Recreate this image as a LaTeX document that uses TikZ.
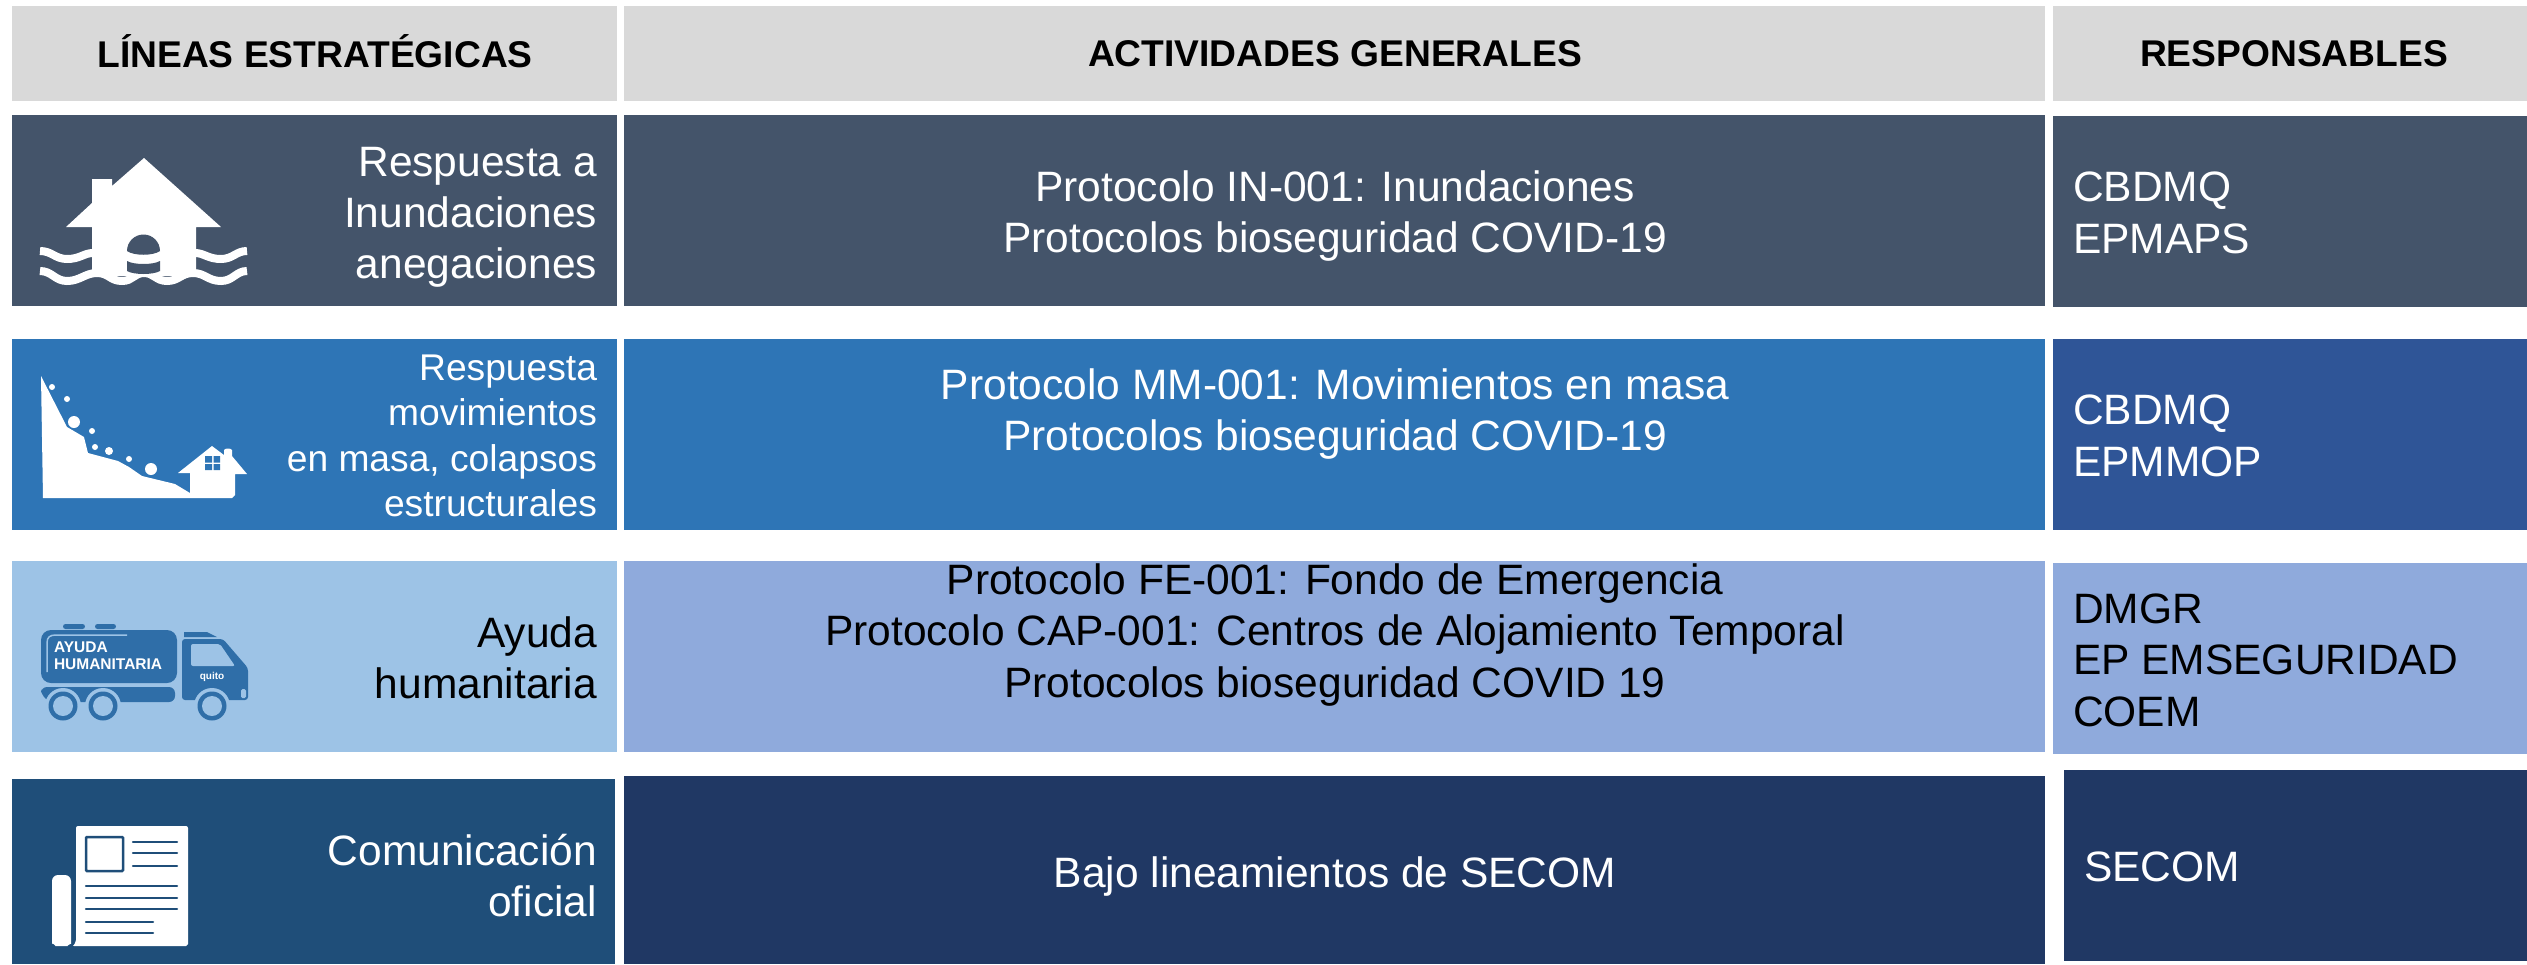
\documentclass[tikz,border=0pt]{standalone}
\usepackage{fontspec}
\setmainfont{Liberation Sans}
\definecolor{hdr}{HTML}{D9D9D9}
\definecolor{slate}{HTML}{44546A}
\definecolor{blueA}{HTML}{2E75B6}
\definecolor{blueB}{HTML}{9DC3E6}
\definecolor{periw}{HTML}{8FAADC}
\definecolor{navyL}{HTML}{1F4E79}
\definecolor{navy}{HTML}{203864}
\definecolor{tk}{HTML}{2F6EA8}
\definecolor{blueR}{HTML}{2F5597}
\tikzset{
  x=1pt,y=-1pt,
  cell/.style={inner sep=0pt,outer sep=0pt},
  hdrtxt/.style={font=\fontsize{37.2}{44}\selectfont\bfseries,black,cell,align=center},
  bigtxt/.style={font=\fontsize{42.5}{51.5}\selectfont,cell,align=center},
  lefttxt/.style={font=\fontsize{42.5}{51}\selectfont,cell,align=right,anchor=east},
  smalltxt/.style={font=\fontsize{37.2}{45.5}\selectfont,cell,align=right,anchor=east},
  resptxt/.style={font=\fontsize{42.5}{51.5}\selectfont,cell,align=left,anchor=west},
}
\begin{document}
\begin{tikzpicture}
\useasboundingbox (0,0) rectangle (2527,964);
\fill[white] (0,0) rectangle (2527,964);
% headers
\fill[hdr] (12,6) rectangle (617,101);
\fill[hdr] (624,6) rectangle (2045,101);
\fill[hdr] (2053,6) rectangle (2527,101);
\node[hdrtxt] (h1) at (315,51) {LÍNEAS ESTRATÉGICAS};
\node[hdrtxt] (h2) at (1335,54) {ACTIVIDADES GENERALES};
\node[hdrtxt] (h3) at (2294,54) {RESPONSABLES};
% row 1
\fill[slate] (12,115) rectangle (617,306);
\fill[slate] (624,115) rectangle (2045,306);
\fill[slate] (2053,116) rectangle (2527,307);
\node[lefttxt,white] (a1) at (597,217) {Respuesta a\\Inundaciones\\anegaciones};
\node[bigtxt,white] (b1) at (1335,216) {Protocolo IN-001: Inundaciones\\Protocolos bioseguridad COVID-19};
\node[resptxt,white] (c1) at (2073,213) {CBDMQ\\EPMAPS};
% row 2
\fill[blueA] (12,339) rectangle (617,530);
\fill[blueA] (624,339) rectangle (2045,530);
\fill[blueR] (2053,339) rectangle (2527,530);
\node[smalltxt,white] (a2) at (597,436) {Respuesta\\movimientos\\en masa, colapsos\\estructurales};
\node[bigtxt,white] (b2) at (1335,414) {Protocolo MM-001: Movimientos en masa\\Protocolos bioseguridad COVID-19};
\node[resptxt,white] (c2) at (2073,436) {CBDMQ\\EPMMOP};
% row 3
\fill[blueB] (12,561) rectangle (617,752);
\fill[periw] (624,561) rectangle (2045,752);
\fill[periw] (2053,563) rectangle (2527,754);
\node[lefttxt,black] (a3) at (597,658) {Ayuda\\humanitaria};
\node[bigtxt,black] (b3) at (1335,635) {Protocolo FE-001: Fondo de Emergencia\\Protocolo CAP-001: Centros de Alojamiento Temporal\\Protocolos bioseguridad COVID 19};
\node[resptxt,black] (c3) at (2073,660) {DMGR\\EP EMSEGURIDAD\\COEM};
% row 4
\fill[navyL] (12,779) rectangle (615,964);
\fill[navy] (624,776) rectangle (2045,964);
\fill[navy] (2064,770) rectangle (2527,961);
\node[lefttxt,white] (a4) at (597,876) {Comunicación\\oficial};
\node[bigtxt,white] (b4) at (1335,876) {Bajo lineamientos de SECOM};
\node[resptxt,white] (c4) at (2084,867) {SECOM};
% flood icon
\fill[white] (92,227) -- (92,179) -- (112,179) -- (112,186) -- (144,158) -- (221,227) -- (196,227) -- (196,276) -- (92,276) -- cycle;
\fill[white] (92,227) -- (66,227) -- (92,203) -- cycle;
\draw[white,line width=8pt] (40,251) .. controls (52,251) and (55,259) .. (67,259) .. controls (80,259) and (84,253) .. (93,253);
\draw[white,line width=8pt] (195,253) .. controls (204,253) and (208,259) .. (221,259) .. controls (233,259) and (236,251) .. (247,251);
\draw[white,line width=8pt] (40,271) .. controls (52,271) and (55,281) .. (67,281) .. controls (80,281) and (85,273) .. (97,273) .. controls (109,273) and (110,281) .. (122,281) .. controls (133,281) and (134,273) .. (144,273) .. controls (154,273) and (156,281) .. (167,281) .. controls (179,281) and (181,273) .. (193,273) .. controls (205,273) and (208,281) .. (221,281) .. controls (233,281) and (236,271) .. (247,271);
\fill[slate] (127,251) arc (180:360:16.5) .. controls (153,256) and (134,256) .. (127,251) -- cycle;
\fill[slate] (127,261) .. controls (134,265) and (153,265) .. (160,261) -- (160,271) .. controls (153,275) and (134,275) .. (127,271) -- cycle;
% landslide icon
\fill[white] (41,376) -- (67,427) -- (84,437) -- (88,453) -- (118,461) -- (129,467) -- (142,476) -- (175,484) -- (190,493) -- (190,473) -- (178,473) -- (212,446) -- (224,455) -- (224,450) .. controls (225,448) and (231,448) .. (232,450) -- (232,456) -- (247,474) -- (235,474) -- (235,495) -- (232,498) -- (43,498) -- cycle;
\foreach \px/\py/\pr in {52/387/3,67/399/3,74/422/6,92/431/3,95/447/3,109/451/4,129/459/3,151/469/6}
  \fill[white] (\px,\py) circle (\pr);
\fill[blueA] (205,456) rectangle (212,462.5) (213.5,456) rectangle (220,462.5) (205,464) rectangle (212,470) (213.5,464) rectangle (220,470);
% truck icon
\fill[tk,rounded corners=10pt] (41,630) rectangle (177,683);
\fill[tk,rounded corners=2.5pt] (63,624) rectangle (85,629) (95,624) rectangle (116,629);
\draw[blueB,line width=1.5pt] (47,672) -- (47,643) .. controls (47,637) and (50,635) .. (56,635) -- (127,635);
\node[cell,white,font=\fontsize{15.5}{17}\selectfont\bfseries,align=left,anchor=west] (tr) at (54,655.5) {AYUDA\\HUMANITARIA};
\fill[tk] (184,632) -- (207,632) -- (217,637) -- (184,637) -- cycle;
\fill[tk,rounded corners=3pt] (182,639) -- (223,639) -- (248,668) -- (248,700) -- (182,700) -- cycle;
\fill[blueB,rounded corners=2pt] (191,644) -- (220,644) -- (235,666) -- (191,666) -- cycle;
\fill[tk,rounded corners=6pt] (41,687) -- (175,687) -- (175,702) -- (50,702) -- (41,695) -- cycle;
\foreach \wx in {63,103,212}{
  \fill[blueB] (\wx,706) circle (18);
  \fill[tk] (\wx,706) circle (14.5);
  \fill[blueB] (\wx,706) circle (10);
}
\fill[blueB,rounded corners=1.5pt] (241,689) rectangle (246,698);
\node[cell,white,font=\fontsize{10}{10}\selectfont\bfseries] (qu) at (212,677) {quito};
% newspaper icon
\fill[white,rounded corners=2pt] (76,826) -- (188,826) -- (188,942) .. controls (188,944) and (186,946) .. (184,946) -- (72,946) .. controls (74,945) and (76,942) .. (76,938) -- cycle;
\fill[white,rounded corners=6pt] (52,875) -- (71,875) -- (71,938) .. controls (71,943) and (67,946) .. (61.5,946) .. controls (56,946) and (52,942) .. (52,938) -- cycle;
\draw[navyL,line width=2.5pt,rounded corners=1pt] (86,837) rectangle (123,871);
\foreach \yy in {842,853,866}\draw[navyL,line width=2.5pt,line cap=round] (133,\yy) -- (177,\yy);
\foreach \yy in {886,898,909}\draw[navyL,line width=2.5pt,line cap=round] (86,\yy) -- (177,\yy);
\foreach \yy in {922,933}\draw[navyL,line width=2.5pt,line cap=round] (86,\yy) -- (153,\yy);
\end{tikzpicture}
\end{document}
